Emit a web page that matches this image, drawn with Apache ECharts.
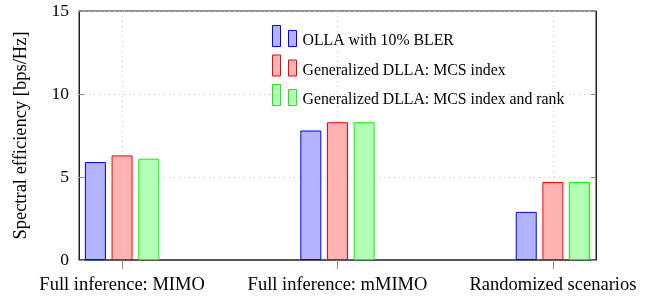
<!DOCTYPE html>
<html>
<head>
<meta charset="utf-8">
<script src="https://cdn.jsdelivr.net/npm/echarts@6/dist/echarts.min.js"></script>
<style>
  html, body { margin: 0; padding: 0; background: #fff; }
  #main { width: 664px; height: 301px; }
</style>
</head>
<body>
<div id="main"></div>
<script>
// categories and values
var categories = ['Full inference: MIMO', 'Full inference: mMIMO', 'Randomized scenarios'];
var seriesNames = ['OLLA with 10% BLER', 'Generalized DLLA: MCS index', 'Generalized DLLA: MCS index and rank'];
var olla = [5.9, 7.8, 2.9];
var dllaMcs = [6.3, 8.3, 4.7];
var dllaMcsRank = [6.1, 8.3, 4.7];
var yTicks = [0, 5, 10, 15];

var FONT = "'Liberation Serif', 'DejaVu Serif', serif";
var legendIcon = 'path://M0,0H8V21H0Z M16,5H24V21H16Z';

function toPoints(values) {
  var out = [];
  for (var i = 0; i < values.length; i++) {
    out.push([i, values[i]]);
  }
  return out;
}

function barSeries(name, values, fill, stroke) {
  return {
    name: name,
    type: 'bar',
    data: toPoints(values),
    barWidth: 21,
    barGap: '27%',
    itemStyle: {
      color: fill,
      borderColor: stroke,
      borderWidth: 1
    }
  };
}

var chart = echarts.init(document.getElementById('main'), null, { renderer: 'canvas' });

var option = {
  animation: false,
  grid: {
    left: 79,
    right: 68,
    top: 11,
    bottom: 41,
    show: true,
    borderColor: '#222',
    borderWidth: 1
  },
  legend: {
    orient: 'vertical',
    left: 272,
    top: 25,
    padding: 0,
    itemWidth: 24,
    itemHeight: 21,
    itemGap: 5.5,
    icon: legendIcon,
    itemStyle: { borderWidth: 1 },
    // text sits low, on the icon baseline, as in the pgfplots legend
    formatter: function (name) { return '{t|' + name + '}'; },
    textStyle: {
      fontFamily: FONT,
      fontSize: 15.8,
      color: '#000',
      rich: {
        t: { fontFamily: FONT, fontSize: 15.8, color: '#000', padding: [10, 0, 0, 1] }
      }
    },
    data: seriesNames
  },
  xAxis: {
    type: 'value',
    min: -0.2,
    max: 2.2,
    axisLine: { show: true, onZero: false, lineStyle: { color: '#444', width: 1.5 } },
    axisTick: {
      show: true,
      customValues: [0, 1, 2],
      length: 9,
      lineStyle: { color: '#888' }
    },
    axisLabel: {
      customValues: [0, 1, 2],
      margin: 16,
      fontFamily: FONT,
      fontSize: 18.5,
      color: '#000',
      formatter: function (v) { return categories[Math.round(v)]; }
    },
    splitLine: {
      show: true,
      lineStyle: { color: '#c8c8c8', type: [1, 4] }
    }
  },
  yAxis: [{
    type: 'value',
    min: 0,
    max: 15,
    interval: 5,
    name: 'Spectral efficiency [bps/Hz]',
    nameLocation: 'middle',
    nameGap: 48,
    nameTextStyle: { fontFamily: FONT, fontSize: 18.5, color: '#000' },
    axisLine: { show: true, onZero: false, lineStyle: { color: '#222' } },
    axisTick: { show: true, inside: true, length: 5, lineStyle: { color: '#888' } },
    axisLabel: {
      margin: 10,
      fontFamily: FONT,
      fontSize: 17.5,
      color: '#000',
      customValues: yTicks
    },
    splitLine: {
      show: true,
      lineStyle: { color: '#c8c8c8', type: [1, 4] }
    }
  }, {
    type: 'value',
    position: 'right',
    min: 0,
    max: 15,
    interval: 5,
    axisLine: { show: true, onZero: false, lineStyle: { color: '#222' } },
    axisTick: { show: true, inside: true, length: 5, lineStyle: { color: '#888' } },
    axisLabel: { show: false },
    splitLine: { show: false }
  }],
  series: [
    barSeries(seriesNames[0], olla, '#b3b3ff', '#0000ff'),
    barSeries(seriesNames[1], dllaMcs, '#ffb3b3', '#ff0000'),
    barSeries(seriesNames[2], dllaMcsRank, '#b3ffb3', '#00ff00')
  ]
};

chart.setOption(option);
</script>
</body>
</html>
